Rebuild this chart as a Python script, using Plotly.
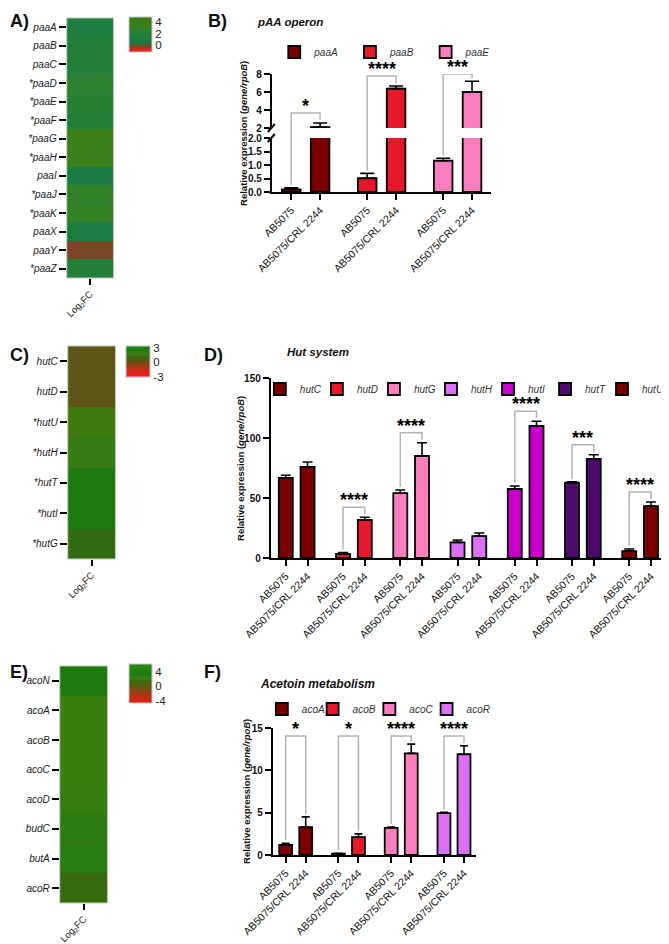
import plotly.graph_objects as go

# The page body adds an 8 px margin; the figure is sized so that it fills the 669x944 window.
PAGE_W, PAGE_H, PAD = 669, 944, 8
W, H = PAGE_W - PAD, PAGE_H - PAD

# ---------------- data ----------------
paa_heat_genes = ["paaA", "paaB", "paaC", "*paaD", "*paaE", "*paaF", "*paaG",
                  "*paaH", "paaI", "*paaJ", "*paaK", "paaX", "paaY", "*paaZ"]
paa_heat_log2fc = [1.0, 1.5, 1.6, 2.6, 2.2, 1.9, 3.6, 3.4, 0.7, 2.8, 3.0, 0.8, -0.35, 1.8]

hut_heat_genes = ["hutC", "hutD", "*hutU", "*hutH", "*hutT", "*hutI", "*hutG"]
hut_heat_log2fc = [0.4, 0.4, 1.6, 1.9, 2.7, 2.7, 1.1]

aco_heat_genes = ["acoN", "acoA", "acoB", "acoC", "acoD", "budC", "butA", "acoR"]
aco_heat_log2fc = [3.0, 2.0, 2.0, 2.0, 2.3, 2.6, 2.8, 1.4]

strains = ["AB5075", "AB5075/CRL 2244"]

paa_bar_genes = ["paaA", "paaB", "paaE"]
paa_mean = [[0.10, 2.10], [0.51, 6.37], [1.16, 6.00]]
paa_err = [[0.06, 0.45], [0.18, 0.30], [0.09, 1.20]]
paa_sig = ["*", "****", "***"]

hut_bar_genes = ["hutC", "hutD", "hutG", "hutH", "hutI", "hutT", "hutU"]
hut_mean = [[66.7, 76.0], [3.5, 31.7], [54.0, 85.0], [13.0, 18.3],
            [57.5, 110.0], [62.8, 82.5], [5.8, 43.3]]
hut_err = [[2.3, 4.0], [1.0, 2.3], [2.7, 11.0], [2.0, 2.5],
           [2.5, 4.0], [0.7, 3.5], [1.7, 3.4]]
hut_sig = ["", "****", "****", "", "****", "***", "****"]

aco_bar_genes = ["acoA", "acoB", "acoC", "acoR"]
aco_mean = [[1.18, 3.3], [0.15, 2.1], [3.2, 12.0], [4.95, 11.9]]
aco_err = [[0.2, 1.2], [0.05, 0.4], [0.1, 1.1], [0.1, 1.0]]
aco_sig = ["*", "*", "****", "****"]

# ---------------- styles ----------------
FONT = "Liberation Sans, Arial, sans-serif"
DARKRED, RED, PINK, VIOLET, MAGENTA, PURPLE = "#7a0000", "#e6192b", "#fa7dbe", "#dc70f4", "#c900c9", "#4d0b6d"
bar_colors = {"paaA": DARKRED, "paaB": RED, "paaE": PINK,
              "hutC": DARKRED, "hutD": RED, "hutG": PINK, "hutH": VIOLET,
              "hutI": MAGENTA, "hutT": PURPLE, "hutU": DARKRED,
              "acoA": DARKRED, "acoB": RED, "acoC": PINK, "acoR": VIOLET}
BRACKET = "#b4b4b4"
OFF = 0.19      # half distance between the two bars of a pair (group units)
BW = 0.245      # bar width (group units)


def X(px):
    """page pixel -> paper x"""
    return (px - PAD) / W


def Y(py):
    """page pixel -> paper y"""
    return 1 - (py - PAD) / H


fig = go.Figure()


def scale(anchors, zmin, zmax):
    return [[(v - zmin) / (zmax - zmin), c] for v, c in anchors]


# ---------------- heatmaps ----------------
def heatmap(genes, vals, ax, box, cs, zmin, zmax, cb, cbticks):
    xa, ya = "x" + ax, "y" + ax
    fig.add_trace(go.Heatmap(
        z=[[v] for v in vals], x=["Log<sub>2</sub>FC"], y=genes,
        xaxis=xa, yaxis=ya, colorscale=scale(cs, zmin, zmax), zmin=zmin, zmax=zmax,
        showscale=True, hoverinfo="skip",
        colorbar=dict(x=X(cb[0]), xanchor="left", xpad=0, y=Y(cb[1]), yanchor="top", ypad=0,
                      len=cb[2], lenmode="pixels", thickness=cb[3], thicknessmode="pixels",
                      outlinecolor="#c8c8c8", outlinewidth=1,
                      tickvals=cbticks, ticktext=[str(t) for t in cbticks],
                      ticks="inside", ticklen=3, tickwidth=1, tickcolor="#555",
                      tickfont=dict(family=FONT, size=11.5, color="#222")),
    ))
    x0, x1, y0, y1 = box
    fig.layout["xaxis" + ax] = dict(domain=[X(x0), X(x1)], anchor=ya, showgrid=False, zeroline=False,
                                    showline=False, ticks="outside", ticklen=6, tickwidth=2.2,
                                    tickcolor="black", tickangle=-45,
                                    tickfont=dict(family=FONT, size=9.5, color="#222"))
    fig.layout["yaxis" + ax] = dict(domain=[Y(y1), Y(y0)], anchor=xa, autorange="reversed",
                                    showgrid=False, zeroline=False, showline=False,
                                    ticks="outside", ticklen=7, tickwidth=2.2, tickcolor="black",
                                    tickfont=dict(family=FONT, size=10, color="#222", style="italic"))
    fig.add_shape(type="rect", xref=xa + " domain", yref=ya + " domain", x0=0, x1=1, y0=0, y1=1,
                  line=dict(color="#b9cdb2", width=1))


A_cs = [(-1.2, "#e41a1a"), (-0.6, "#d42a1c"), (-0.35, "#7b4628"), (0.5, "#1b7a44"),
        (1.6, "#22803a"), (2.5, "#2c8032"), (3.5, "#3a8018"), (4.9, "#3d7a1e")]
C_cs = [(-3.1, "#ff1a1a"), (-1.5, "#c43018"), (0.0, "#6a4c12"), (0.4, "#5e5418"),
        (1.1, "#316a14"), (1.6, "#3e7a10"), (1.9, "#357a12"), (2.7, "#1e7a10"), (3.4, "#1c8a10")]
E_cs = [(-4.7, "#f01a10"), (-2.5, "#b03418"), (0.0, "#5a5c10"), (1.4, "#386a0e"),
        (2.0, "#3a7e10"), (2.3, "#357d10"), (2.6, "#2e7c10"), (2.8, "#287c10"),
        (3.0, "#1d7a0f"), (6.1, "#2c8a12")]

heatmap(paa_heat_genes, paa_heat_log2fc, "", (67, 114, 18, 278), A_cs, -1.2, 4.9,
        (130, 17, 35, 23), [4, 2, 0])
heatmap(hut_heat_genes, hut_heat_log2fc, "2", (68, 116, 346, 559), C_cs, -3.1, 3.4,
        (127, 346, 31, 24), [3, 0, -3])
heatmap(aco_heat_genes, aco_heat_log2fc, "3", (60, 108, 666, 903), E_cs, -4.7, 6.1,
        (130, 664, 39, 23), [4, 0, -4])

# ---------------- bar panels ----------------
legend_ids = []


def add_bars(genes, means, errs, xa, yas, capw):
    for g, (gene, m, e) in enumerate(zip(genes, means, errs)):
        lid = "legend" if not legend_ids else f"legend{len(legend_ids) + 1}"
        legend_ids.append(lid)
        for k, ya in enumerate(yas):
            fig.add_trace(go.Bar(
                x=[g - OFF, g + OFF], y=m, width=[BW, BW], name=gene, legend=lid,
                showlegend=(k == 0), xaxis=xa, yaxis=ya, hoverinfo="skip",
                marker=dict(color=bar_colors[gene], line=dict(color="black", width=1.8)),
                error_y=dict(type="data", symmetric=False, array=e, arrayminus=[0, 0],
                             color="black", thickness=1.6, width=capw),
            ))


def bar_xaxis(name, anchor, x0, x1, n, r):
    tv, tt = [], []
    for g in range(n):
        tv += [g - OFF, g + OFF]
        tt += strains
    fig.layout[name] = dict(domain=[X(x0), X(x1)], anchor=anchor, range=r, showgrid=False,
                            zeroline=False, showline=True, linecolor="black", linewidth=2,
                            ticks="outside", ticklen=6, tickwidth=2, tickcolor="black",
                            tickvals=tv, ticktext=tt, tickangle=-45,
                            tickfont=dict(family=FONT, size=10.5, color="#111"))


def bar_yaxis(name, anchor, y0, y1, r, tv, fmt=None):
    d = dict(domain=[Y(y1), Y(y0)], anchor=anchor, range=r, showgrid=False, zeroline=False,
             showline=True, linecolor="black", linewidth=2, ticks="outside", ticklen=6,
             tickwidth=2, tickcolor="black", tickvals=tv,
             tickfont=dict(family=FONT, size=10, color="#111", weight="bold"))
    if fmt:
        d["tickformat"] = fmt
    fig.layout[name] = d


def star(x, y, xa, ya, text):
    fig.add_annotation(x=x, y=y, xref=xa, yref=ya, text=text, showarrow=False, yanchor="bottom",
                       yshift=-5, font=dict(family=FONT, size=18, color="black", weight="bold"))


def brackets(means, errs, sig, xa, ya, upp, common=False):
    tops = [[m + e for m, e in zip(mm, ee)] for mm, ee in zip(means, errs)]
    glob = max(max(t) for t, s in zip(tops, sig) if s)
    for g, s in enumerate(sig):
        if not s:
            continue
        h = (glob if common else max(tops[g])) + (8 if common else 10) * upp
        le, re_ = tops[g][0] + 3 * upp, tops[g][1] + 3 * upp
        fig.add_shape(type="path", xref=xa, yref=ya,
                      path=f"M {g - OFF},{le} L {g - OFF},{h} L {g + OFF},{h} L {g + OFF},{re_}",
                      line=dict(color=BRACKET, width=1.5))
        star(g, h, xa, ya, s)


# ---- B: pAA operon (broken y axis) ----
B_X0, B_X1 = 273, 493
B_BOT = (138, 192, [0, 2])
B_TOP = (74, 128, [2, 8])
add_bars(paa_bar_genes, paa_mean, paa_err, "x4", ["y4", "y5"], 7)
bar_xaxis("xaxis4", "y4", B_X0, B_X1, 3, [-0.446, 2.437])
bar_yaxis("yaxis4", "x4", B_BOT[0], B_BOT[1], B_BOT[2], [0, 0.5, 1, 1.5, 2], ".1f")
bar_yaxis("yaxis5", "x4", B_TOP[0], B_TOP[1], B_TOP[2], [2, 4, 6, 8])
upp_top = (B_TOP[2][1] - B_TOP[2][0]) / (B_TOP[1] - B_TOP[0])
upp_bot = (B_BOT[2][1] - B_BOT[2][0]) / (B_BOT[1] - B_BOT[0])
for g, s in enumerate(paa_sig):
    t = [m + e for m, e in zip(paa_mean[g], paa_err[g])]
    h = min(max(t) + 10 * upp_top, B_TOP[2][1])
    ends = [t[0] + 3 * upp_bot if t[0] < 2 else t[0] + 3 * upp_top,
            t[1] + 3 * upp_bot if t[1] < 2 else t[1] + 3 * upp_top]
    xs = [g - OFF, g + OFF]
    top_ends = [max(e, B_TOP[2][0]) for e in ends]
    fig.add_shape(type="path", xref="x4", yref="y5",
                  path=f"M {xs[0]},{top_ends[0]} L {xs[0]},{h} L {xs[1]},{h} L {xs[1]},{top_ends[1]}",
                  line=dict(color=BRACKET, width=1.5))
    for xx, e in zip(xs, ends):
        if e < 2:
            fig.add_shape(type="line", xref="x4", yref="paper", x0=xx, x1=xx,
                          y0=Y(B_BOT[0]), y1=Y(B_TOP[1]), line=dict(color=BRACKET, width=1.5))
            fig.add_shape(type="line", xref="x4", yref="y4", x0=xx, x1=xx, y0=e, y1=B_BOT[2][1],
                          line=dict(color=BRACKET, width=1.5))
    star(g, h, "x4", "y5", s)
# axis break marks
for yy in (B_TOP[1], B_BOT[0]):
    fig.add_shape(type="line", xref="paper", yref="paper", x0=X(B_X0 - 4), x1=X(B_X0 + 3),
                  y0=Y(yy + 4), y1=Y(yy - 4), line=dict(color="black", width=2))

# ---- D: Hut system ----
D_X0, D_X1, D_Y0, D_Y1 = 272, 668, 378, 558
add_bars(hut_bar_genes, hut_mean, hut_err, "x6", ["y6"], 5)
bar_xaxis("xaxis6", "y6", D_X0, D_X1, 7, [-0.452, 6.435])
bar_yaxis("yaxis6", "x6", D_Y0, D_Y1, [0, 150], [0, 50, 100, 150])
brackets(hut_mean, hut_err, hut_sig, "x6", "y6", 150 / (D_Y1 - D_Y0))

# ---- F: Acetoin metabolism ----
F_X0, F_X1, F_Y0, F_Y1 = 274, 478, 728, 855
add_bars(aco_bar_genes, aco_mean, aco_err, "x7", ["y7"], 4)
bar_xaxis("xaxis7", "y7", F_X0, F_X1, 4, [-0.434, 3.415])
bar_yaxis("yaxis7", "x7", F_Y0, F_Y1, [0, 15], [0, 5, 10, 15])
brackets(aco_mean, aco_err, aco_sig, "x7", "y7", 15 / (F_Y1 - F_Y0), common=True)

# ---------------- text ----------------
ytitle = "<b>Relative expression (<i>gene/rpoB</i>)</b>"
for xx, yy in ((245, 133), (241, 468), (247, 791)):
    fig.add_annotation(x=X(xx), y=Y(yy), xref="paper", yref="paper", text=ytitle, textangle=-90,
                       showarrow=False, xanchor="center", yanchor="middle",
                       font=dict(family=FONT, size=9.5, color="#111"))
for txt, xx, yy, sz in (("pAA operon", 256, 22, 11.5), ("Hut system", 286, 352, 11.5),
                        ("Acetoin metabolism", 259, 684, 12)):
    fig.add_annotation(x=X(xx), y=Y(yy), xref="paper", yref="paper", text=f"<b><i>{txt}</i></b>",
                       showarrow=False, xanchor="left", yanchor="middle",
                       font=dict(family=FONT, size=sz, color="#111"))
for txt, xx, yy, anchor in (("A)", 5, 9, "top"), ("B)", 207, 9, "top"), ("C)", 5, 355, "middle"),
                            ("D)", 203, 355, "middle"), ("E)", 1, 672, "middle"),
                            ("F)", 203, 672, "middle")):
    fig.add_annotation(x=max(X(xx), 0), y=Y(yy), xref="paper", yref="paper", text=f"<b>{txt}</b>",
                       showarrow=False, xanchor="left", yanchor=anchor,
                       font=dict(family=FONT, size=18, color="#111"))

# legend entries: one small legend per gene, placed where the reference shows its key
legend_pos = ([(297.5, 52), (373.5, 52), (449.5, 52)]
              + [(283 + 57.3 * i, 389) for i in range(7)]
              + [(285, 709), (336, 709), (393, 709), (450.5, 709)])
legends = {}
for lid, (cx, cy) in zip(legend_ids, legend_pos):
    legends[lid] = dict(orientation="h", x=X(cx - 22), xanchor="left", y=Y(cy), yanchor="middle",
                        bgcolor="rgba(0,0,0,0)", itemclick=False, itemdoubleclick=False,
                        font=dict(family=FONT, size=10, color="#333", style="italic"))

fig.update_layout(
    width=W, height=H, margin=dict(l=0, r=0, t=0, b=0), template="none",
    paper_bgcolor="white", plot_bgcolor="white", barmode="overlay", showlegend=True,
    font=dict(family=FONT, color="#1a1a1a"), **legends,
)

fig.write_html("out.html")
